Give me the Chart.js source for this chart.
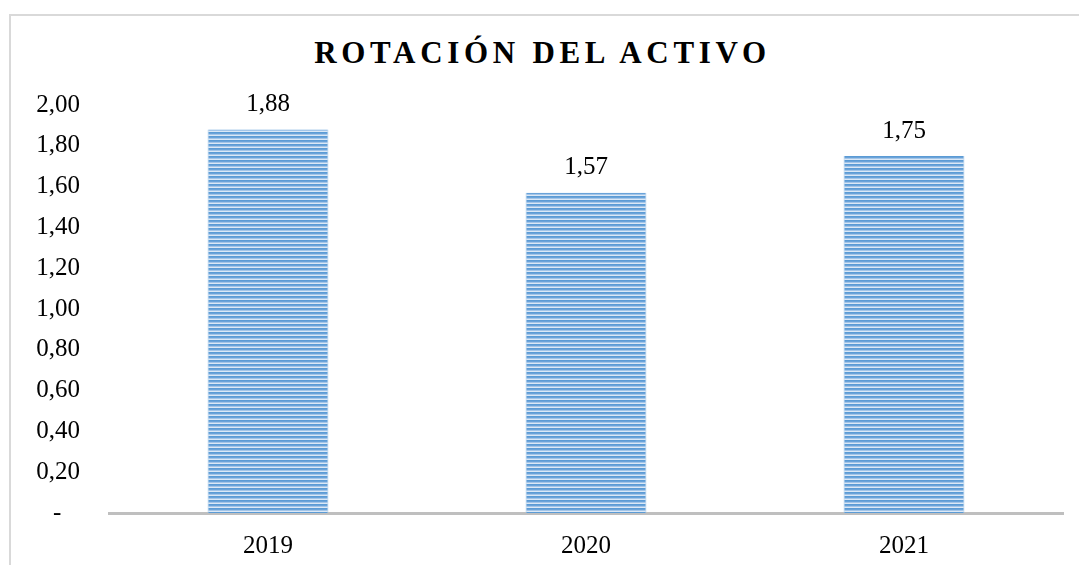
<!DOCTYPE html>
<html>
<head>
<meta charset="utf-8">
<script src="https://cdn.jsdelivr.net/npm/chart.js@4/dist/chart.umd.min.js"></script>
<style>
  html, body { margin: 0; padding: 0; background: #fff; }
  #marco { position: absolute; left: 9px; top: 14px; width: 1200px; height: 700px; border: 2px solid #d9d9d9; box-sizing: border-box; }
  #titulo { position: absolute; left: 3px; top: 35px; width: 1079px; text-align: center; font: bold 31px "Liberation Serif", "Times New Roman", serif; letter-spacing: 4.7px; color: #000; }
  #lienzo { position: absolute; left: 0; top: 0; }
</style>
</head>
<body>
<div id="marco"></div>
<div id="titulo">ROTACIÓN DEL ACTIVO</div>
<canvas id="lienzo" width="1079" height="565"></canvas>
<script>
const anos = ["2019", "2020", "2021"];
const rotacion = [1.88, 1.57, 1.75];
const etiquetasValor = ["1,88", "1,57", "1,75"];
const etiquetasY = ["-   ", "0,20", "0,40", "0,60", "0,80", "1,00", "1,20", "1,40", "1,60", "1,80", "2,00"];

const fuente = { family: "'Liberation Serif', 'Times New Roman', serif", size: 25 };

// trama de rayas horizontales como en el original
function trama() {
  const c = document.createElement("canvas");
  c.width = 4; c.height = 4;
  const g = c.getContext("2d");
  const filas = ["#5b9bd5", "#6aa3d9", "#a3c5e8", "#dbe8f6"];
  filas.forEach((col, i) => { g.fillStyle = col; g.fillRect(0, i, 4, 1); });
  return g.createPattern(c, "repeat");
}

const etiquetasBarras = {
  id: "etiquetasBarras",
  afterDatasetsDraw(chart) {
    const ctx = chart.ctx;
    const meta = chart.getDatasetMeta(0);
    ctx.save();
    ctx.font = `${fuente.size}px ${fuente.family}`;
    ctx.fillStyle = "#000";
    ctx.textAlign = "center";
    ctx.textBaseline = "middle";
    meta.data.forEach((bar, i) => ctx.fillText(etiquetasValor[i], bar.x, bar.y - 25));
    ctx.restore();
  }
};

new Chart(document.getElementById("lienzo"), {
  type: "bar",
  data: {
    labels: anos,
    datasets: [{
      data: rotacion,
      backgroundColor: trama(),
      borderColor: "#9dc3e6",
      borderWidth: { left: 1, right: 1, top: 0, bottom: 0 },
      categoryPercentage: 1,
      barPercentage: 0.38
    }]
  },
  options: {
    responsive: false,
    animation: false,
    layout: { padding: { top: 105, right: 16, left: 0, bottom: 0 } },
    plugins: { legend: { display: false }, tooltip: { enabled: false } },
    scales: {
      x: {
        grid: { display: false, drawTicks: false },
        border: { display: true, color: "#bfbfbf", width: 3 },
        ticks: { font: fuente, color: "#000", padding: 18 },
        afterFit: (s) => { s.height = 52; }
      },
      y: {
        min: 0, max: 2,
        grid: { display: false, drawTicks: false },
        border: { display: false },
        ticks: { stepSize: 0.2, font: fuente, color: "#000", padding: 29,
                 callback: (v, i) => etiquetasY[i] },
        afterFit: (s) => { s.width = 109; }
      }
    }
  },
  plugins: [etiquetasBarras]
});
</script>
</body>
</html>
